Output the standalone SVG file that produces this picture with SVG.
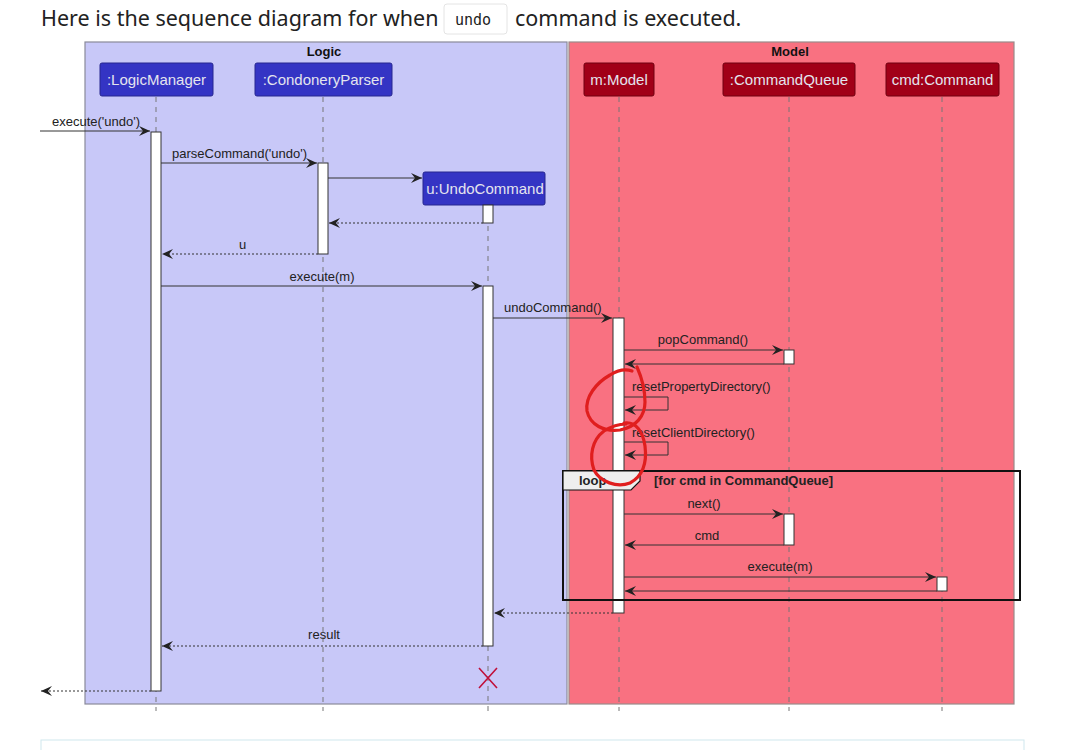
<svg xmlns="http://www.w3.org/2000/svg" width="1075" height="750" viewBox="0 0 1075 750">
<defs>
<marker id="ah" markerWidth="12" markerHeight="10" refX="11" refY="5" orient="auto" markerUnits="userSpaceOnUse">
<path d="M0,0 L11,5 L0,10 L4,5 Z" fill="#222"/>
</marker>
</defs>
<style>
.title{font-family:"Noto Sans","Open Sans",sans-serif;font-size:21.5px;fill:#222}
.code{font-family:"DejaVu Sans Mono","Liberation Mono",monospace;font-size:15px;fill:#222}
.box-l{fill:#C8C8F8;stroke:#8a8a9a;stroke-width:1.2}
.box-m{fill:#F97181;stroke:#9a8a8a;stroke-width:1.2}
.boxt{font-family:"Liberation Sans",Arial,sans-serif;font-size:13px;font-weight:bold;fill:#111;text-anchor:middle}
.pb{fill:#3434C4;stroke:#262690;stroke-width:1}
.pr{fill:#A10018;stroke:#700010;stroke-width:1}
.pt{font-family:"Liberation Sans",Arial,sans-serif;font-size:15px;fill:#E4E4EE;text-anchor:middle}
.life{stroke:#777;stroke-width:1;stroke-dasharray:5,5}
.act{fill:#fff;stroke:#333;stroke-width:1}
.msg{stroke:#333;stroke-width:1;fill:none}
.ret{stroke:#333;stroke-width:1;fill:none;stroke-dasharray:2,2}
.ml{font-family:"Liberation Sans",Arial,sans-serif;font-size:13px;fill:#222}
.mc{text-anchor:middle}
.scr{fill:none;stroke:#E01E1E;stroke-width:3.2;stroke-linecap:round;stroke-linejoin:round}
</style>
<rect width="1075" height="750" fill="#fff"/>
<g id="heading">
<text class="title" x="41" y="26">Here is the sequence diagram for when</text>
<rect x="444" y="4" width="63" height="30" rx="3" fill="#fff" stroke="#e4e4e4"/>
<text class="code" x="455" y="25">undo</text>
<text class="title" x="515" y="26">command is executed.</text>
</g>
<g id="box-logic">
<rect class="box-l" x="85" y="42" width="482" height="662"/>
<text class="boxt" x="324" y="56">Logic</text>
</g>
<g id="box-model">
<rect class="box-m" x="569" y="42" width="445" height="662"/>
<text class="boxt" x="790" y="56">Model</text>
</g>
<g id="lifelines">
<line class="life" x1="156" y1="97" x2="156" y2="711"/>
<line class="life" x1="323" y1="97" x2="323" y2="711"/>
<line class="life" x1="488" y1="206" x2="488" y2="711"/>
<line class="life" x1="619" y1="97" x2="619" y2="711"/>
<line class="life" x1="789" y1="97" x2="789" y2="711"/>
<line class="life" x1="942" y1="97" x2="942" y2="711"/>
</g>
<g id="p-logicmanager">
<rect class="pb" x="100" y="63" width="113" height="33" rx="2"/>
<text class="pt" x="156.5" y="85">:LogicManager</text>
</g>
<g id="p-parser">
<rect class="pb" x="255" y="63" width="137" height="33" rx="2"/>
<text class="pt" x="323.5" y="85">:CondoneryParser</text>
</g>
<g id="p-model">
<rect class="pr" x="584" y="63" width="70" height="33" rx="2"/>
<text class="pt" x="619" y="85">m:Model</text>
</g>
<g id="p-queue">
<rect class="pr" x="723" y="63" width="132" height="33" rx="2"/>
<text class="pt" x="789" y="85">:CommandQueue</text>
</g>
<g id="p-command">
<rect class="pr" x="886" y="63" width="113" height="33" rx="2"/>
<text class="pt" x="942.5" y="85">cmd:Command</text>
</g>
<g id="p-undo">
<rect class="pb" x="423" y="172" width="122" height="33" rx="2"/>
<text class="pt" x="485" y="194" font-size="13.5">u:UndoCommand</text>
</g>
<g id="activations">
<rect class="act" x="151" y="132" width="10" height="559"/>
<rect class="act" x="318" y="163" width="10" height="91"/>
<rect class="act" x="483" y="205" width="10" height="18"/>
<rect class="act" x="483" y="286" width="10" height="360"/>
<rect class="act" x="613" y="318" width="11" height="295"/>
<rect class="act" x="784" y="350" width="10" height="14"/>
<rect class="act" x="784" y="514" width="10" height="31"/>
<rect class="act" x="937" y="577" width="10" height="14"/>
</g>
<g id="loop-frame">
<rect x="563" y="471" width="457" height="129" fill="none" stroke="#111" stroke-width="2"/>
<path d="M563,471 H640 V481 L631,490 H563 Z" fill="#eee" stroke="#111" stroke-width="1.2"/>
<text class="ml" x="579" y="485" font-weight="bold">loop</text>
<text class="ml" x="654" y="485" font-weight="bold" font-size="10.5">[for cmd in CommandQueue]</text>
</g>
<g id="connectors">
<line class="msg" x1="40" y1="131" x2="150" y2="131" marker-end="url(#ah)"/>
<text class="ml" x="52" y="126">execute('undo')</text>
<line class="msg" x1="161" y1="163" x2="317" y2="163" marker-end="url(#ah)"/>
<text class="ml" x="172" y="158">parseCommand('undo')</text>
<line class="msg" x1="328" y1="178" x2="422" y2="178" marker-end="url(#ah)"/>
<line class="ret" x1="483" y1="223" x2="329" y2="223" marker-end="url(#ah)"/>
<line class="ret" x1="318" y1="254" x2="162" y2="254" marker-end="url(#ah)"/>
<text class="ml" x="239" y="249">u</text>
<line class="msg" x1="161" y1="286" x2="482" y2="286" marker-end="url(#ah)"/>
<text class="ml mc" x="322" y="281">execute(m)</text>
<line class="msg" x1="493" y1="318" x2="612" y2="318" marker-end="url(#ah)"/>
<text class="ml" x="504" y="312">undoCommand()</text>
<line class="msg" x1="624" y1="350" x2="783" y2="350" marker-end="url(#ah)"/>
<text class="ml mc" x="703" y="344">popCommand()</text>
<line class="msg" x1="784" y1="364" x2="625" y2="364" marker-end="url(#ah)"/>
<path class="msg" d="M624,397 H668 V410 H625" marker-end="url(#ah)"/>
<text class="ml" x="632" y="391">resetPropertyDirectory()</text>
<path class="msg" d="M624,442 H668 V455 H625" marker-end="url(#ah)"/>
<text class="ml" x="632" y="437">resetClientDirectory()</text>
<line class="msg" x1="624" y1="514" x2="783" y2="514" marker-end="url(#ah)"/>
<text class="ml mc" x="704" y="508">next()</text>
<line class="msg" x1="784" y1="545" x2="625" y2="545" marker-end="url(#ah)"/>
<text class="ml mc" x="707" y="540">cmd</text>
<line class="msg" x1="624" y1="577" x2="936" y2="577" marker-end="url(#ah)"/>
<text class="ml mc" x="780" y="571">execute(m)</text>
<line class="msg" x1="937" y1="591" x2="625" y2="591" marker-end="url(#ah)"/>
<line class="ret" x1="613" y1="613" x2="494" y2="613" marker-end="url(#ah)"/>
<line class="ret" x1="483" y1="646" x2="162" y2="646" marker-end="url(#ah)"/>
<text class="ml mc" x="324" y="639">result</text>
<line class="ret" x1="151" y1="691" x2="41" y2="691" marker-end="url(#ah)"/>
</g>
<g id="destroy">
<path d="M479,668 L497,688 M497,668 L479,688" stroke="#C0103A" stroke-width="1.6"/>
</g>
<g id="scribbles">
<path class="scr" d="M637,367 C641,376 645,390 645,402 C645,416 636,427 620,430 C604,432 590,425 587,411 C585,397 596,383 610,375 C618,370 626,369 632,371"/>
<path class="scr" d="M624,423 C636,421 643,432 645,446 C647,462 643,476 630,483 C617,488 600,482 594,470 C589,456 592,440 604,431 C612,426 620,424 626,424"/>
</g>
<g id="footer">
<rect x="41" y="740" width="983" height="20" fill="#fff" stroke="#cfe7ee"/>
</g>
</svg>
